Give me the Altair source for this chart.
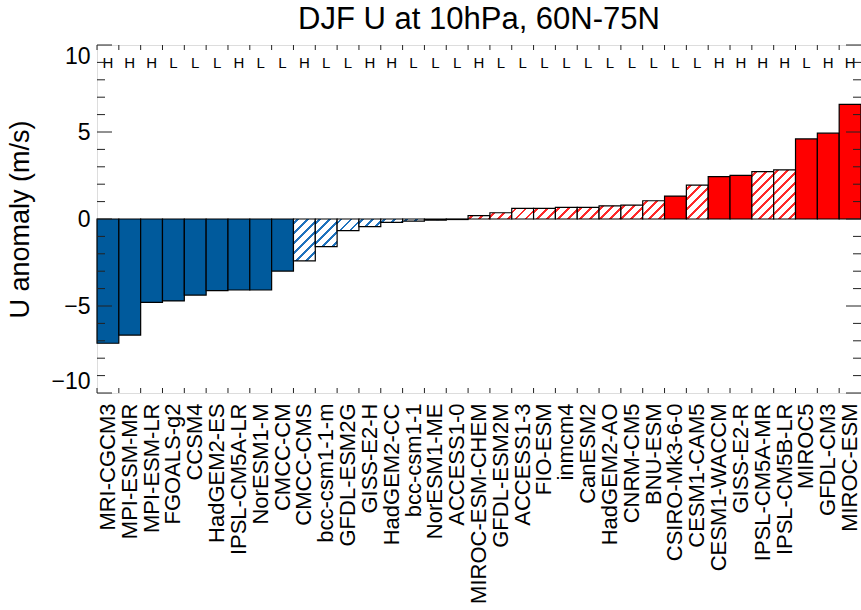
import altair as alt

models = [
    "MRI-CGCM3", "MPI-ESM-MR", "MPI-ESM-LR", "FGOALS-g2", "CCSM4", "HadGEM2-ES",
    "IPSL-CM5A-LR", "NorESM1-M", "CMCC-CM", "CMCC-CMS", "bcc-csm1-1-m", "GFDL-ESM2G",
    "GISS-E2-H", "HadGEM2-CC", "bcc-csm1-1", "NorESM1-ME", "ACCESS1-0", "MIROC-ESM-CHEM",
    "GFDL-ESM2M", "ACCESS1-3", "FIO-ESM", "inmcm4", "CanESM2", "HadGEM2-AO", "CNRM-CM5",
    "BNU-ESM", "CSIRO-Mk3-6-0", "CESM1-CAM5", "CESM1-WACCM", "GISS-E2-R", "IPSL-CM5A-MR",
    "IPSL-CM5B-LR", "MIROC5", "GFDL-CM3", "MIROC-ESM",
]
values = [
    -7.14, -6.67, -4.79, -4.71, -4.37, -4.12, -4.08, -4.08, -2.99, -2.41, -1.59, -0.67,
    -0.44, -0.19, -0.12, -0.07, -0.03, 0.19, 0.36, 0.61, 0.61, 0.67, 0.67, 0.76, 0.80,
    1.05, 1.32, 1.95, 2.43, 2.51, 2.72, 2.82, 4.60, 4.93, 6.59,
]
top_flags = list("HHHLLLHLLHLLHHLLLHLLLLLLLLLLHHHHLHH")
# 1 = solid (significant), 0 = hatched
solid = [1, 1, 1, 1, 1, 1, 1, 1, 1, 0, 0, 0, 0, 0, 0, 0, 0,
         0, 0, 0, 0, 0, 0, 0, 0, 0, 1, 0, 1, 1, 0, 0, 1, 1, 1]
major_ticks = [-10, -5, 0, 5, 10]
minor_ticks = [t for t in range(-9, 10) if t % 5 != 0]

W, H = 764, 348
YMIN, YMAX = -10, 10
BLUE, RED = "#005a9c", "#ff0000"
BLUE_H, RED_H = "#1f72bd", "#ff2a2a"
FONT = "Liberation Sans"


def hatch(color, v):
    # diagonal "/" stripe fill built as a linear gradient in bbox units
    w = W / len(models)
    h = max(abs(v) * H / (YMAX - YMIN), 0.5)
    span = w + h
    c = span / (w * w + h * h)
    period, thick = 10.0, 2.8
    stops = [{"offset": 0, "color": "white"}]
    pos = 3.0
    while pos < span:
        a = pos / span
        b = min((pos + thick) / span, 1.0)
        stops += [
            {"offset": a, "color": "white"},
            {"offset": a, "color": color},
            {"offset": b, "color": color},
            {"offset": b, "color": "white"},
        ]
        pos += period
    stops.append({"offset": 1, "color": "white"})
    return {"gradient": "linear", "x1": 0, "y1": 0, "x2": c * w, "y2": c * h, "stops": stops}


records = []
for m, v, f, s in zip(models, values, top_flags, solid):
    if s:
        fill = BLUE if v < 0 else RED
    else:
        fill = hatch(BLUE_H if v < 0 else RED_H, v)
    records.append({"model": m, "value": float(v), "hl": f, "fill": fill})

base = alt.Chart(alt.Data(values=records))

x_axis = alt.Axis(labelAngle=270, labelFontSize=22, labelFont=FONT, labelColor="black",
                  labelPadding=10, ticks=False, tickSize=0, domain=False,
                  labelOverlap=False, labelLimit=400, title=None)
x_scale = alt.Scale(paddingInner=0, paddingOuter=0)
y_scale = alt.Scale(domain=[YMIN, YMAX], nice=False)
y_axis = alt.Axis(values=major_ticks, title="U anomaly (m/s)", titleFontSize=27,
                  titleFont=FONT, titleFontWeight="normal", titleColor="black",
                  titlePadding=16, labelFontSize=23, labelFont=FONT, orient="left",
                  labelColor="black", labelPadding=7, ticks=False, tickSize=0,
                  domain=False, grid=False, labelFlush=True)


def xe(**kw):
    return alt.X("model:N", sort=None, scale=x_scale, axis=x_axis, **kw)


def ye():
    return alt.Y("value:Q", scale=y_scale, axis=y_axis)


bars = base.mark_bar(stroke="black", strokeWidth=1.2).encode(
    x=xe(),
    y=ye(),
    y2=alt.datum(0),
    fill=alt.Fill("fill:N", scale=None),
)

letters = base.mark_text(fontSize=15, font=FONT, color="black", baseline="middle").encode(
    x=xe(),
    y=alt.value(18),
    text="hl:N",
)

top_ticks = base.mark_rule(color="#222", strokeWidth=1).encode(
    x=xe(bandPosition=0), y=alt.value(0), y2=alt.value(5))
bottom_ticks = base.mark_rule(color="#222", strokeWidth=1).encode(
    x=xe(bandPosition=0), y=alt.value(H), y2=alt.value(H - 5))

maj = alt.Chart(alt.Data(values=[{"value": t} for t in major_ticks]))
mnr = alt.Chart(alt.Data(values=[{"value": t} for t in minor_ticks]))
yl_maj = maj.mark_rule(color="#222").encode(y=ye(), x=alt.value(0), x2=alt.value(15))
yl_min = mnr.mark_rule(color="#222").encode(y=ye(), x=alt.value(0), x2=alt.value(8))
yr_maj = maj.mark_rule(color="#222").encode(y=ye(), x=alt.value(W), x2=alt.value(W - 15))
yr_min = mnr.mark_rule(color="#222").encode(y=ye(), x=alt.value(W), x2=alt.value(W - 8))

chart = alt.layer(
    bars, letters, top_ticks, bottom_ticks, yl_maj, yl_min, yr_maj, yr_min
).properties(
    width=W, height=H,
    title=alt.TitleParams("DJF U at 10hPa, 60N-75N", fontSize=31, font=FONT,
                          fontWeight="normal", color="black", anchor="middle",
                          frame="group", offset=9),
    autosize=alt.AutoSizeParams(type="none"),
    padding={"left": 97, "top": 45, "right": 0, "bottom": 217},
).configure_view(stroke="#222", strokeWidth=1.2).configure(font=FONT, background="white")

chart.save("out.html", embed_options={"renderer": "svg", "actions": False})
